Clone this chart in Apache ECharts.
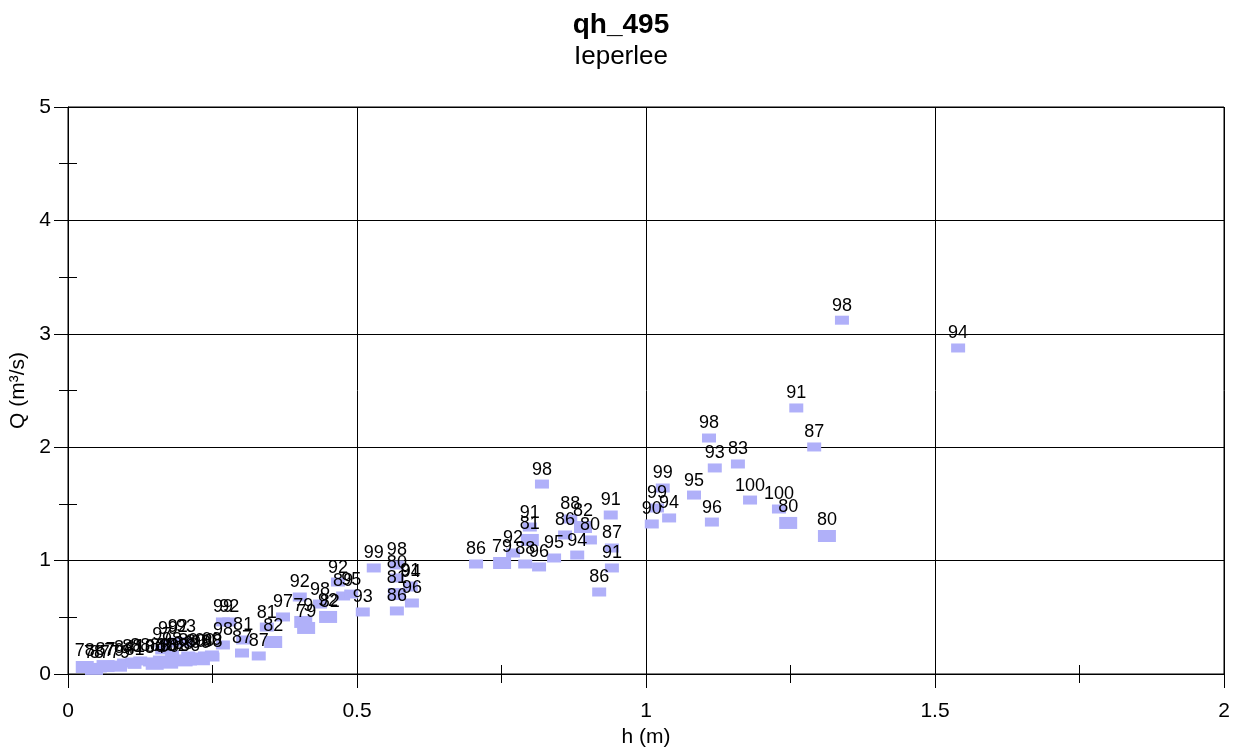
<!DOCTYPE html>
<html>
<head>
<meta charset="utf-8">
<script src="https://cdn.jsdelivr.net/npm/echarts@6/dist/echarts.min.js"></script>
<style>html,body{margin:0;padding:0;background:#fff}#c{width:1242px;height:749px}</style>
</head>
<body>
<div id="c"></div>
<script>
// ---- data ----
const hValues = [
  1.339,1.540,1.260,1.291,1.313,1.246,1.230,1.180,1.159,1.119,1.109,1.114,1.083,1.029,1.019,1.040,1.010,
  0.706,0.751,0.770,0.791,0.815,0.841,0.881,0.941,0.941,0.919,0.799,0.799,0.860,0.869,0.891,0.903,0.939,0.820,
  0.529,0.569,0.569,0.569,0.592,0.593,0.595,0.569,0.510,0.467,0.476,0.490,0.436,0.450,0.453,0.401,0.372,0.407,0.412,0.344,0.355,
  0.268,0.279,0.268,0.303,0.301,0.330,
  0.029,0.055,0.080,0.097,0.111,0.125,0.142,0.159,0.163,0.173,0.190,0.204,0.180,0.190,0.208,0.221,0.237,0.249,0.211,0.170,
  0.045,0.065,0.090,0.115,0.150,0.175,0.200,0.230,0.250
];
const qValues = [
  3.120,2.875,2.346,2.002,1.217,1.332,1.455,1.534,1.852,1.817,2.081,1.340,1.578,1.640,1.464,1.376,1.323,
  0.970,0.979,1.067,0.970,0.944,1.023,1.049,1.111,0.935,0.723,1.182,1.296,1.226,1.367,1.296,1.182,1.402,1.675,
  0.935,0.961,0.847,0.705,0.776,0.767,0.626,0.556,0.547,0.811,0.688,0.705,0.617,0.503,0.511,0.679,0.503,0.459,0.406,0.414,0.282,
  0.459,0.459,0.256,0.300,0.185,0.159,
  0.062,0.053,0.079,0.097,0.106,0.115,0.106,0.123,0.212,0.273,0.282,0.282,0.168,0.123,0.159,0.150,0.159,0.168,0.115,0.115,
  0.045,0.070,0.060,0.085,0.090,0.100,0.120,0.130,0.150
];
const yearLabels = [
  '98','94','91','87','80','80','100','100','83','93','98','96','95','99','99','94','90',
  '86','79','92','88','96','95','94','87','91','86','81','91','86','88','82','80','91','98',
  '99','98','80','81','91','94','96','86','93','92','89','95','98','92','82','92','97','79','79','81','82',
  '99','92','98','81','87','87',
  '78','87','79','84','88','88','100','83','97','99','92','93','98','82','89','80','90','99','86','85',
  '78','87','79','81','84','90','83','99','88'
];
// number of measurements merged in a mark
const counts = [
  1,1,1,1,2,2,1,1,1,1,1,1,1,1,1,1,1,
  1,2,1,1,1,1,1,1,1,1,2,1,1,1,2,1,1,1,
  1,1,1,2,1,1,1,1,1,1,1,1,1,2,1,1,1,2,2,1,2,
  1,1,1,1,1,1,
  2,1,1,1,1,1,1,1,1,1,1,1,1,1,1,1,1,1,1,1,
  2,2,1,1,2,2,2,2,1
];
const xTicks = [0, 0.5, 1, 1.5, 2];
const yTicks = [0, 1, 2, 3, 4, 5];

const points = hValues.map((h, i) => [h, qValues[i], yearLabels[i], counts[i]]);

const FONT = "'Liberation Sans', Arial, sans-serif";
const chart = echarts.init(document.getElementById('c'), null, {renderer: 'canvas'});
chart.setOption({
  animation: false,
  backgroundColor: '#fff',
  title: {
    text: 'qh_495',
    subtext: 'Ieperlee',
    left: 'center',
    top: 6,
    itemGap: 5,
    textStyle: {fontFamily: FONT, fontSize: 28, fontWeight: 'bold', color: '#000'},
    subtextStyle: {fontFamily: FONT, fontSize: 26, color: '#000'}
  },
  grid: {left: 68, right: 18, top: 107, bottom: 75, containLabel: false, outerBoundsMode: 'none',
    show: true, borderColor: '#000', borderWidth: 1, backgroundColor: 'transparent'},
  xAxis: [{
    type: 'value', min: xTicks[0], max: xTicks[xTicks.length - 1], interval: 0.5,
    name: 'h (m)', nameLocation: 'middle', nameGap: 52,
    nameTextStyle: {fontFamily: FONT, fontSize: 21, color: '#000'},
    axisLine: {show: true, lineStyle: {color: '#000', width: 1}},
    axisTick: {show: true, inside: false, length: 14, lineStyle: {color: '#000'}},
    minorTick: {show: true, splitNumber: 2, length: 9, lineStyle: {color: '#000'}},
    axisLabel: {fontFamily: FONT, fontSize: 21, color: '#000', margin: 27,
      formatter: v => String(v)},
    splitLine: {show: true, lineStyle: {color: '#000', width: 1}}
  }, {
    type: 'value', min: xTicks[0], max: xTicks[xTicks.length - 1], interval: 0.25, position: 'bottom',
    axisLine: {show: false},
    axisTick: {show: true, inside: true, length: 9, lineStyle: {color: '#000'}},
    axisLabel: {show: false}, splitLine: {show: false}
  }],
  yAxis: [{
    type: 'value', min: yTicks[0], max: yTicks[yTicks.length - 1], interval: 1,
    name: 'Q (m³/s)', nameLocation: 'middle', nameGap: 38,
    nameTextStyle: {fontFamily: FONT, fontSize: 21, color: '#000'},
    axisLine: {show: true, lineStyle: {color: '#000', width: 1}},
    axisTick: {show: true, inside: false, length: 14, lineStyle: {color: '#000'}},
    minorTick: {show: true, splitNumber: 2, length: 9, lineStyle: {color: '#000'}},
    axisLabel: {fontFamily: FONT, fontSize: 21, color: '#000', margin: 17},
    splitLine: {show: true, lineStyle: {color: '#000', width: 1}}
  }, {
    type: 'value', min: yTicks[0], max: yTicks[yTicks.length - 1], interval: 0.5, position: 'left',
    axisLine: {show: false},
    axisTick: {show: true, inside: true, length: 9, lineStyle: {color: '#000'}},
    axisLabel: {show: false}, splitLine: {show: false}
  }],
  series: [{
    type: 'scatter',
    xAxisIndex: 0, yAxisIndex: 0,
    symbol: 'rect',
    symbolSize: v => v[3] > 1 ? [18, 12] : [14, 9],
    itemStyle: {color: '#b0b0f9', opacity: 1},
    label: {
      show: true, position: 'top', distance: 1,
      formatter: p => p.value[2],
      fontFamily: FONT, fontSize: 18, color: '#000'
    },
    data: points
  }]
});
</script>
</body>
</html>
